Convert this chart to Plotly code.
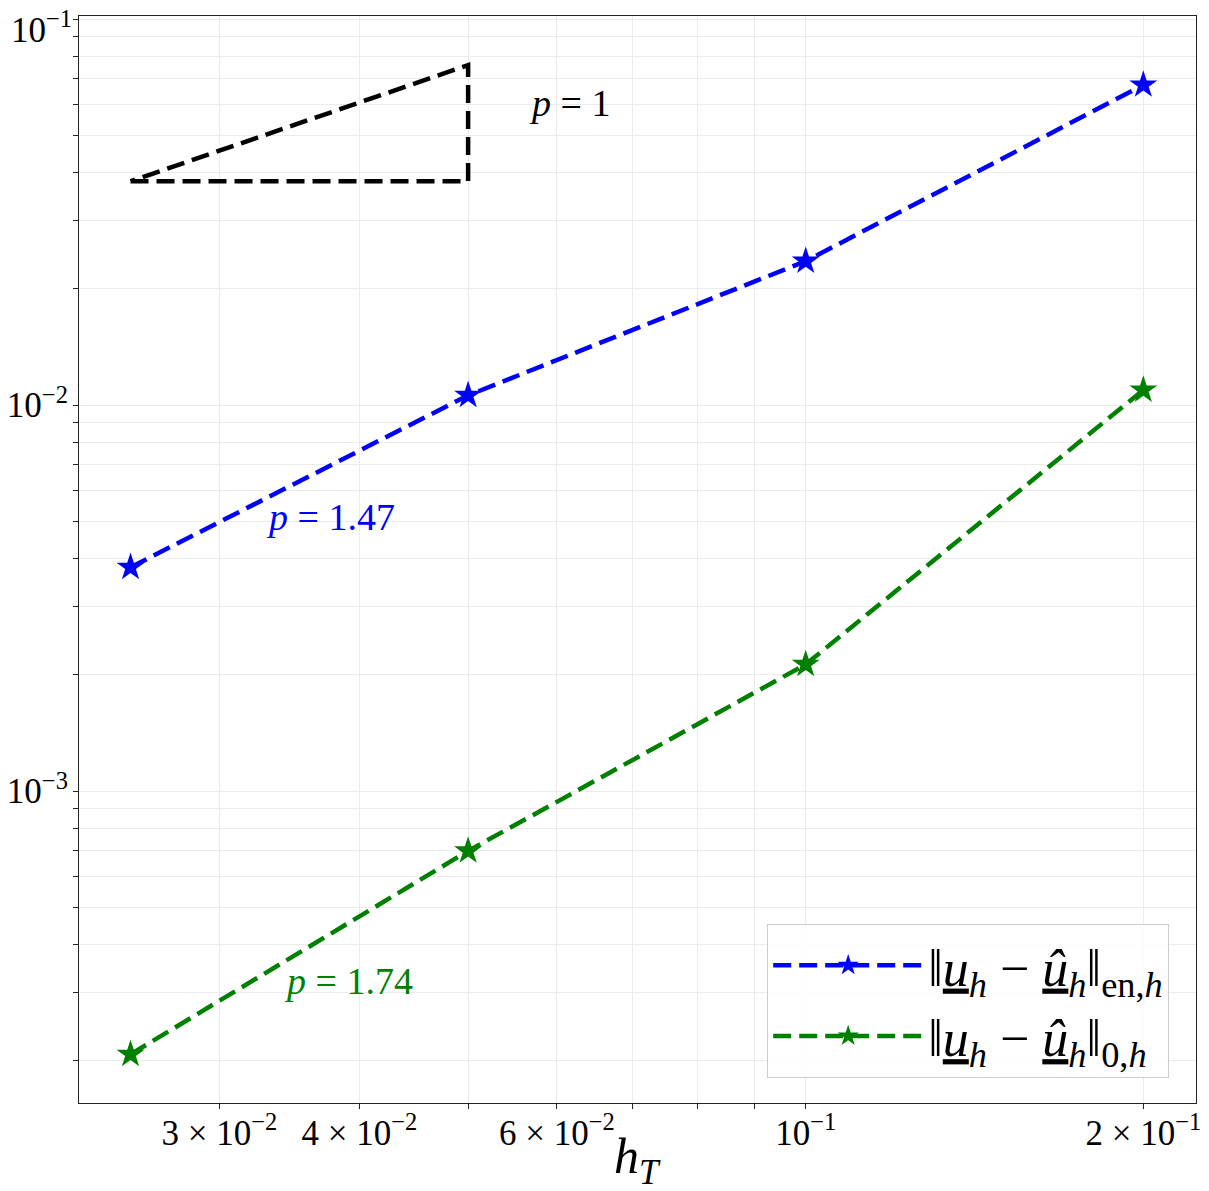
import numpy as np
import plotly.graph_objects as go

# mesh sizes and errors
h = [0.025, 0.05, 0.1, 0.2]
err_en = [0.0038, 0.0106, 0.0236, 0.0675]
err_l2 = [0.000208, 0.00070, 0.00213, 0.01094]

# slope-1 reference triangle
tri_x = [0.025, 0.05, 0.05, 0.025]
tri_y = [0.038, 0.038, 0.076, 0.038]

x_ticks = [0.03, 0.04, 0.05, 0.06, 0.07, 0.08, 0.09, 0.1, 0.2]
x_labels = ["3 × 10<sup>−2</sup>", "4 × 10<sup>−2</sup>", " ", "6 × 10<sup>−2</sup>",
            " ", " ", " ", "10<sup>−1</sup>", "2 × 10<sup>−1</sup>"]

y_ticks = [m * 10.0 ** e for e in (-4, -3, -2) for m in range(1, 10)] + [0.1]
y_labels = []
for v in y_ticks:
    e = int(round(np.log10(v)))
    y_labels.append(f"10<sup>−{-e}</sup>" if abs(np.log10(v) - e) < 1e-9 else " ")
# the top label sits at the very edge of the page, drawn separately below
y_labels[-1] = " "

FONT = "Liberation Serif, DejaVu Serif, serif"
UL = "<span style='text-decoration:underline'>"
lab_en = f"‖{UL}<i>u</i></span><sub><i>h</i></sub> − {UL}<i>û</i></span><sub><i>h</i></sub>‖<sub>en,<i>h</i></sub>"
lab_l2 = f"‖{UL}<i>u</i></span><sub><i>h</i></sub> − {UL}<i>û</i></span><sub><i>h</i></sub>‖<sub>0,<i>h</i></sub>"

dash = "18px,8px"

fig = go.Figure()
fig.add_trace(go.Scatter(x=tri_x, y=tri_y, mode="lines", showlegend=False,
                         line=dict(color="black", width=4.5, dash=dash)))
fig.add_trace(go.Scatter(x=h, y=err_en, mode="lines+markers", name=lab_en,
                         line=dict(color="#0000ff", width=4.5, dash=dash),
                         marker=dict(symbol="star", size=21, color="#0000ff")))
fig.add_trace(go.Scatter(x=h, y=err_l2, mode="lines+markers", name=lab_l2,
                         line=dict(color="#008000", width=4.5, dash=dash),
                         marker=dict(symbol="star", size=21, color="#008000")))

notes = [(0.0616, 0.0605, "<i>p</i> = 1", "black"),
         (0.0377, 0.00513, "<i>p</i> = 1.47", "#0000ff"),
         (0.0391, 0.000323, "<i>p</i> = 1.74", "#008000")]
for x, y, t, c in notes:
    fig.add_annotation(x=np.log10(x), y=np.log10(y), text=t, showarrow=False,
                       font=dict(family=FONT, size=38, color=c))

# top y tick label, nudged down so it stays on the page
fig.add_annotation(xref="paper", x=0, y=np.log10(y_ticks[-1]), xanchor="right", yanchor="top",
                   xshift=-5, yshift=16, text=f"10<sup>−1</sup>", showarrow=False,
                   font=dict(family=FONT, size=35, color="black"))

# x-axis title placed by hand
fig.add_annotation(xref="paper", yref="paper", x=0.5, y=-0.052, yanchor="middle",
                   text="<i>h</i><sub><i>T</i></sub>", showarrow=False,
                   font=dict(family=FONT, size=50, color="black"))

axis_common = dict(type="log", showline=True, linecolor="#222", linewidth=1.2, mirror=True,
                   ticks="outside", ticklen=5, tickcolor="#222", showgrid=True,
                   gridcolor="#ebebeb", gridwidth=1, zeroline=False, automargin=False,
                   ticklabeloverflow="allow",
                   tickfont=dict(family=FONT, size=35, color="black"))
fig.update_xaxes(range=[-1.648, -0.652], tickmode="array", tickvals=x_ticks, ticktext=x_labels,
                 ticklabelstandoff=-6, **axis_common)
fig.update_yaxes(range=[-3.808, -0.992], tickmode="array", tickvals=y_ticks, ticktext=y_labels,
                 ticklabelstandoff=-2, **axis_common)

# page body adds 8px, so the figure is shrunk by that much
fig.update_layout(width=1201, height=1183, template="plotly_white",
                  plot_bgcolor="white", paper_bgcolor="white",
                  margin=dict(l=71, r=13, t=8, b=88),
                  legend=dict(x=0.976, y=0.023, xanchor="right", yanchor="bottom",
                              bgcolor="rgba(255,255,255,0.85)", bordercolor="#cccccc", borderwidth=1,
                              font=dict(family=FONT, size=52, color="black"),
                              itemwidth=150, tracegroupgap=12))
fig.write_html("out.html")
